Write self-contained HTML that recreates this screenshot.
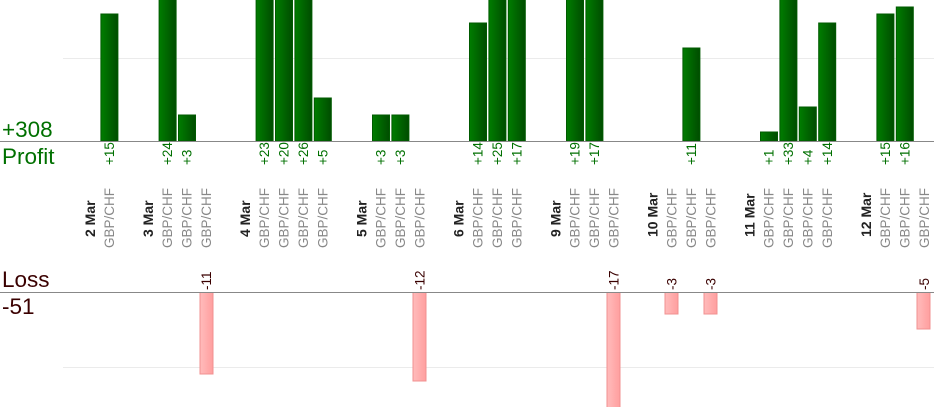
<!DOCTYPE html>
<html><head><meta charset="utf-8"><style>
html,body{margin:0;padding:0;background:#fff;width:934px;height:420px;overflow:hidden}
svg text{font-family:"Liberation Sans",sans-serif}
.p{fill:#007000;font-size:13.5px}
.g{fill:#888;font-size:13.5px}
.d{fill:#222;font-size:14px;font-weight:bold}
.l{fill:#3a0000;font-size:13.5px}
</style></head><body>
<svg width="934" height="420" xmlns="http://www.w3.org/2000/svg">
<defs>
<linearGradient id="gg" x1="0" x2="1" y1="0" y2="0"><stop offset="0" stop-color="#007d00"/><stop offset="1" stop-color="#004c00"/></linearGradient>
<linearGradient id="rg" x1="0" x2="1" y1="0" y2="0"><stop offset="0" stop-color="#ffbcbc"/><stop offset="1" stop-color="#ff9e9e"/></linearGradient>
<clipPath id="cp"><rect x="0" y="0" width="934" height="141"/></clipPath>
<clipPath id="cl"><rect x="0" y="292" width="934" height="115"/></clipPath>
</defs>
<line x1="63" y1="58.5" x2="934" y2="58.5" stroke="#ebebeb"/>
<line x1="63" y1="367.5" x2="934" y2="367.5" stroke="#ebebeb"/>
<g clip-path="url(#cp)" fill="url(#gg)" stroke="#005a00" stroke-width="1">
<rect x="100.9" y="14" width="17" height="127"/>
<rect x="159.1" y="-2" width="17" height="143"/>
<rect x="178.5" y="115" width="17" height="26"/>
<rect x="256.1" y="-2" width="17" height="143"/>
<rect x="275.5" y="-2" width="17" height="143"/>
<rect x="294.9" y="-2" width="17" height="143"/>
<rect x="314.3" y="98" width="17" height="43"/>
<rect x="372.5" y="115" width="17" height="26"/>
<rect x="391.9" y="115" width="17" height="26"/>
<rect x="469.5" y="23" width="17" height="118"/>
<rect x="488.9" y="-2" width="17" height="143"/>
<rect x="508.3" y="-2" width="17" height="143"/>
<rect x="566.5" y="-2" width="17" height="143"/>
<rect x="585.9" y="-2" width="17" height="143"/>
<rect x="682.9" y="48" width="17" height="93"/>
<rect x="760.5" y="132" width="17" height="9"/>
<rect x="779.9" y="-2" width="17" height="143"/>
<rect x="799.3" y="107" width="17" height="34"/>
<rect x="818.7" y="23" width="17" height="118"/>
<rect x="876.9" y="14" width="17" height="127"/>
<rect x="896.3" y="7" width="17" height="134"/>
</g>
<g clip-path="url(#cl)" fill="url(#rg)" stroke="#f29090" stroke-width="1">
<rect x="200" y="292" width="13" height="82"/>
<rect x="413" y="292" width="13" height="89"/>
<rect x="607" y="292" width="13" height="126"/>
<rect x="665" y="292" width="13" height="22"/>
<rect x="704" y="292" width="13" height="22"/>
<rect x="917" y="292" width="13" height="37"/>
</g>
<line x1="0" y1="141.5" x2="934" y2="141.5" stroke="#888"/>
<line x1="0" y1="292.5" x2="934" y2="292.5" stroke="#888"/>
<text x="2" y="137" font-size="22.5" fill="#007000">+308</text>
<text x="2" y="164" font-size="22.5" fill="#007000">Profit</text>
<text x="2" y="287" font-size="22.5" fill="#3a0000">Loss</text>
<text x="2" y="314" font-size="22.5" fill="#3a0000">-51</text>
<g class="p">
<text transform="translate(114,165) rotate(-90)">+15</text>
<text transform="translate(172.2,165) rotate(-90)">+24</text>
<text transform="translate(191.6,165) rotate(-90)">+3</text>
<text transform="translate(269.2,165) rotate(-90)">+23</text>
<text transform="translate(288.6,165) rotate(-90)">+20</text>
<text transform="translate(308,165) rotate(-90)">+26</text>
<text transform="translate(327.4,165) rotate(-90)">+5</text>
<text transform="translate(385.6,165) rotate(-90)">+3</text>
<text transform="translate(405,165) rotate(-90)">+3</text>
<text transform="translate(482.6,165) rotate(-90)">+14</text>
<text transform="translate(502,165) rotate(-90)">+25</text>
<text transform="translate(521.4,165) rotate(-90)">+17</text>
<text transform="translate(579.6,165) rotate(-90)">+19</text>
<text transform="translate(599,165) rotate(-90)">+17</text>
<text transform="translate(696,165) rotate(-90)">+11</text>
<text transform="translate(773.6,165) rotate(-90)">+1</text>
<text transform="translate(793,165) rotate(-90)">+33</text>
<text transform="translate(812.4,165) rotate(-90)">+4</text>
<text transform="translate(831.8,165) rotate(-90)">+14</text>
<text transform="translate(890,165) rotate(-90)">+15</text>
<text transform="translate(909.4,165) rotate(-90)">+16</text>
</g>
<g class="d">
<text transform="translate(95,237) rotate(-90)">2 Mar</text>
<text transform="translate(153.2,237) rotate(-90)">3 Mar</text>
<text transform="translate(250.2,237) rotate(-90)">4 Mar</text>
<text transform="translate(366.6,237) rotate(-90)">5 Mar</text>
<text transform="translate(463.6,237) rotate(-90)">6 Mar</text>
<text transform="translate(560.6,237) rotate(-90)">9 Mar</text>
<text transform="translate(657.6,237) rotate(-90)">10 Mar</text>
<text transform="translate(754.6,237) rotate(-90)">11 Mar</text>
<text transform="translate(871,237) rotate(-90)">12 Mar</text>
</g>
<g class="g">
<text transform="translate(114,248) rotate(-90)">GBP/CHF</text>
<text transform="translate(172.2,248) rotate(-90)">GBP/CHF</text>
<text transform="translate(191.6,248) rotate(-90)">GBP/CHF</text>
<text transform="translate(211,248) rotate(-90)">GBP/CHF</text>
<text transform="translate(269.2,248) rotate(-90)">GBP/CHF</text>
<text transform="translate(288.6,248) rotate(-90)">GBP/CHF</text>
<text transform="translate(308,248) rotate(-90)">GBP/CHF</text>
<text transform="translate(327.4,248) rotate(-90)">GBP/CHF</text>
<text transform="translate(385.6,248) rotate(-90)">GBP/CHF</text>
<text transform="translate(405,248) rotate(-90)">GBP/CHF</text>
<text transform="translate(424.4,248) rotate(-90)">GBP/CHF</text>
<text transform="translate(482.6,248) rotate(-90)">GBP/CHF</text>
<text transform="translate(502,248) rotate(-90)">GBP/CHF</text>
<text transform="translate(521.4,248) rotate(-90)">GBP/CHF</text>
<text transform="translate(579.6,248) rotate(-90)">GBP/CHF</text>
<text transform="translate(599,248) rotate(-90)">GBP/CHF</text>
<text transform="translate(618.4,248) rotate(-90)">GBP/CHF</text>
<text transform="translate(676.6,248) rotate(-90)">GBP/CHF</text>
<text transform="translate(696,248) rotate(-90)">GBP/CHF</text>
<text transform="translate(715.4,248) rotate(-90)">GBP/CHF</text>
<text transform="translate(773.6,248) rotate(-90)">GBP/CHF</text>
<text transform="translate(793,248) rotate(-90)">GBP/CHF</text>
<text transform="translate(812.4,248) rotate(-90)">GBP/CHF</text>
<text transform="translate(831.8,248) rotate(-90)">GBP/CHF</text>
<text transform="translate(890,248) rotate(-90)">GBP/CHF</text>
<text transform="translate(909.4,248) rotate(-90)">GBP/CHF</text>
<text transform="translate(928.8,248) rotate(-90)">GBP/CHF</text>
</g>
<g class="l">
<text transform="translate(211,290) rotate(-90)">-11</text>
<text transform="translate(424.4,290) rotate(-90)">-12</text>
<text transform="translate(618.4,290) rotate(-90)">-17</text>
<text transform="translate(676.6,290) rotate(-90)">-3</text>
<text transform="translate(715.4,290) rotate(-90)">-3</text>
<text transform="translate(928.8,290) rotate(-90)">-5</text>
</g>
</svg>
</body></html>
